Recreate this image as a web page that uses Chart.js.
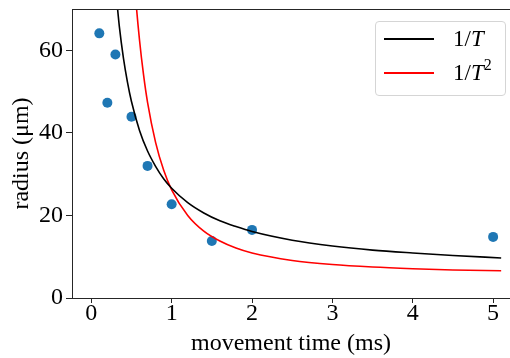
<!DOCTYPE html>
<html>
<head>
<meta charset="utf-8">
<script src="https://cdn.jsdelivr.net/npm/chart.js@4/dist/chart.umd.min.js"></script>
<style>
  html, body { margin: 0; padding: 0; background: #fff; }
  #wrap { position: relative; width: 510px; height: 358px; }
  #legend {
    position: absolute; left: 375px; top: 21px; width: 131px; height: 75px;
    border: 1px solid #d5d5d5; border-radius: 4px; background: rgba(255,255,255,0.85);
    font-family: "Liberation Serif", "DejaVu Serif", serif; font-size: 23px; color: #000;
    box-sizing: border-box;
  }
  .item { position: absolute; left: 0; height: 26px; width: 100%; }
  .swatch { position: absolute; left: 8px; top: 12px; width: 50px; height: 2px; }
  .lbl { position: absolute; left: 77px; top: 0; line-height: 26px; white-space: nowrap; }
  .lbl sup { font-size: 16px; position: relative; top: -3px; vertical-align: top; line-height: 16px; }
</style>
</head>
<body>
<div id="wrap">
  <canvas id="chart" width="510" height="358"></canvas>
  <div id="legend">
    <div class="item" style="top:4px"><span class="swatch" style="background:#000"></span><span class="lbl">1/<i>T</i></span></div>
    <div class="item" style="top:38px"><span class="swatch" style="background:#ff0000"></span><span class="lbl">1/<i>T</i><sup>2</sup></span></div>
  </div>
</div>
<script>
// measured points
const timeMs = [0.1, 0.2, 0.3, 0.5, 0.7, 1.0, 1.5, 2.0, 5.0];
const radiusUm = [64.1, 47.3, 59.0, 43.9, 32.0, 22.7, 13.8, 16.5, 14.8];

// 1/T fit curve
const invTx = [0.3, 0.35, 0.4, 0.45, 0.5, 0.6, 0.7, 0.8, 0.9, 1.0, 1.2, 1.4, 1.6, 1.8, 2.0, 2.5, 3.0, 3.5, 4.0, 4.5, 5.1];
const invTy = [75.6, 65.6, 58.1, 52.3, 47.6, 40.6, 35.6, 31.9, 28.9, 26.6, 23.1, 20.6, 18.7, 17.3, 16.1, 14.0, 12.6, 11.6, 10.9, 10.3, 9.7];

// 1/T^2 fit curve
const invT2x = [0.5, 0.55, 0.6, 0.65, 0.7, 0.8, 0.9, 1.0, 1.2, 1.4, 1.6, 1.8, 2.0, 2.5, 3.0, 3.5, 4.0, 4.5, 5.1];
const invT2y = [87.4, 73.2, 62.5, 54.1, 47.4, 37.7, 31.0, 26.2, 20.0, 16.2, 13.8, 12.1, 10.9, 9.1, 8.1, 7.5, 7.1, 6.8, 6.6];

const xTicks = [0, 1, 2, 3, 4, 5];
const yTicks = [0, 20, 40, 60];

const toXY = (xs, ys) => xs.map((x, i) => ({ x: x, y: ys[i] }));

const serif = '"Liberation Serif", "DejaVu Serif", serif';
const axisColor = '#262626';

// matplotlib-style top spine
const topSpine = {
    id: 'topSpine',
    afterDraw(chart) {
        const a = chart.chartArea;
        const ctx = chart.ctx;
        ctx.save();
        ctx.strokeStyle = axisColor;
        ctx.lineWidth = 1;
        ctx.beginPath();
        ctx.moveTo(a.left, a.top + 0.5);
        ctx.lineTo(a.right, a.top + 0.5);
        ctx.stroke();
        ctx.restore();
    }
};

const ctx = document.getElementById('chart').getContext('2d');
new Chart(ctx, {
    type: 'scatter',
    data: {
        datasets: [{
            label: '1/T',
            data: toXY(invTx, invTy),
            showLine: true,
            borderColor: '#000000',
            borderWidth: 1.6,
            pointRadius: 0,
            cubicInterpolationMode: 'monotone'
        }, {
            label: '1/T²',
            data: toXY(invT2x, invT2y),
            showLine: true,
            borderColor: '#ff0000',
            borderWidth: 1.6,
            pointRadius: 0,
            cubicInterpolationMode: 'monotone'
        }, {
            label: 'data',
            data: toXY(timeMs, radiusUm),
            backgroundColor: '#1f77b4',
            borderColor: '#1f77b4',
            pointRadius: 5,
            borderWidth: 0
        }]
    },
    options: {
        responsive: false,
        animation: false,
        layout: { autoPadding: false, padding: { top: 9, right: 0, left: 0, bottom: 0 } },
        plugins: {
            legend: { display: false },
            tooltip: { enabled: false }
        },
        scales: {
            x: {
                type: 'linear',
                min: -0.24,
                max: 5.21,
                afterBuildTicks: scale => { scale.ticks = xTicks.map(v => ({ value: v })); },
                afterFit: scale => {
                    scale.height = 60;
                    scale.paddingLeft = 0;
                    scale.paddingRight = 0;
                },
                grid: { drawOnChartArea: false, drawTicks: true, tickLength: 5, color: axisColor },
                border: { color: axisColor, width: 1 },
                ticks: { color: '#000', font: { family: serif, size: 24 }, padding: -4, maxRotation: 0 },
                title: {
                    display: true,
                    text: 'movement time (ms)',
                    color: '#000',
                    font: { family: serif, size: 24 },
                    padding: { top: 0, bottom: 0 }
                }
            },
            y: {
                type: 'linear',
                min: 0,
                max: 70,
                afterBuildTicks: scale => { scale.ticks = yTicks.map(v => ({ value: v })); },
                afterFit: scale => {
                    scale.width = 72;
                    scale.paddingTop = 0;
                    scale.paddingBottom = 0;
                },
                grid: { drawOnChartArea: false, drawTicks: true, tickLength: 6, color: axisColor },
                border: { color: axisColor, width: 1 },
                ticks: { color: '#000', font: { family: serif, size: 24 }, padding: 3 },
                title: {
                    display: true,
                    text: 'radius (μm)',
                    color: '#000',
                    font: { family: serif, size: 24 },
                    padding: { top: 7, bottom: 0 }
                }
            }
        }
    },
    plugins: [topSpine]
});
</script>
</body>
</html>
